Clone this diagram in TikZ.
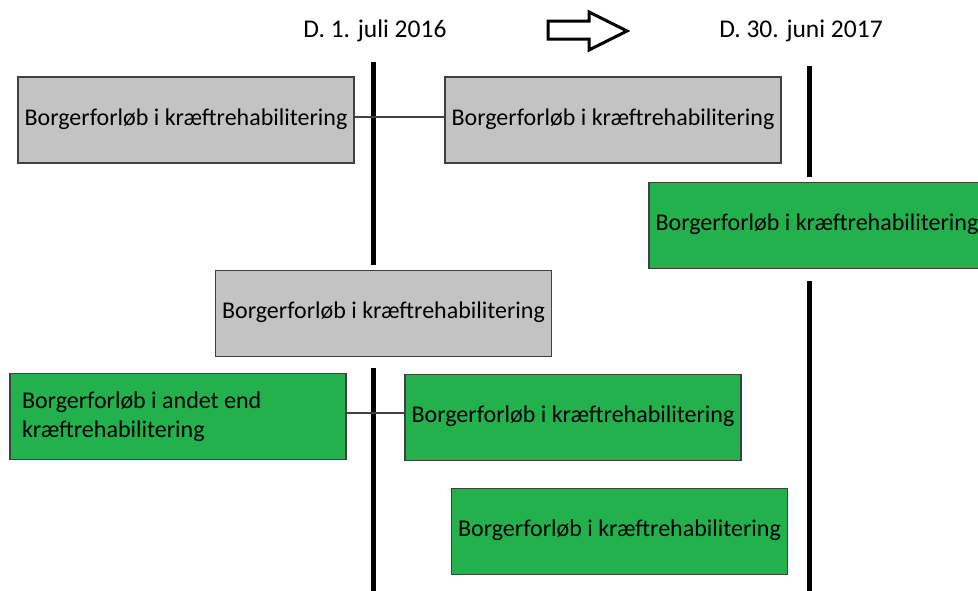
\documentclass[tikz,border=0pt]{standalone}
\usepackage{fontspec}
\setmainfont{Carlito}
\begin{document}
\begin{tikzpicture}[x=1pt,y=-1pt,
  box/.style={draw=black!75,line width=1.3pt,minimum width=336pt,minimum height=86pt,inner sep=0pt,
    font=\fontsize{24}{29}\selectfont,text depth=6pt},
  graybox/.style={box,fill={rgb,255:red,195;green,195;blue,195}},
  greenbox/.style={box,fill={rgb,255:red,34;green,177;blue,76}},
  timeline/.style={line width=5pt,black},
  link/.style={line width=1.3pt,black!75},
  title/.style={font=\fontsize{25.5}{30}\selectfont,inner sep=0pt}]
\clip (0,0) rectangle (978,590);
\fill[white] (0,0) rectangle (978,590);
% titles
\node[title] (t1) at (375,31) {D. 1. juli 2016};
\node[title] (t2) at (801,31) {D. 30. juni 2017};
% block arrow
\draw[line width=3pt,miter limit=10] (548,21) -- (589,21) -- (589,12) -- (627,31) -- (589,50) -- (589,39) -- (548,39) -- cycle;
% timelines
\coordinate (a1) at (373,62);
\coordinate (a2) at (373,265);
\coordinate (a3) at (373,368);
\coordinate (a4) at (373,592);
\coordinate (b1) at (809,66);
\coordinate (b2) at (809,177);
\coordinate (b3) at (809,281);
\coordinate (b4) at (809,592);
\draw[timeline] (a1) -- (a2);
\draw[timeline] (a3) -- (a4);
\draw[timeline] (b1) -- (b2);
\draw[timeline] (b3) -- (b4);
% boxes
\node[graybox] (n1) at (186,120) {Borgerforløb i kræftrehabilitering};
\node[graybox] (n2) at (613,120) {Borgerforløb i kræftrehabilitering};
\node[greenbox] (n3) at (817,225.5) {Borgerforløb i kræftrehabilitering};
\node[graybox] (n4) at (383.5,313.5) {Borgerforløb i kræftrehabilitering};
\node[greenbox,align=flush left,text width=312pt,text depth=32pt] (n5) at (178,416.5) {Borgerforløb i andet end\\kræftrehabilitering};
\node[greenbox] (n6) at (573,417.5) {Borgerforløb i kræftrehabilitering};
\node[greenbox] (n7) at (619.5,531.5) {Borgerforløb i kræftrehabilitering};
% links
\draw[link] (n1.east |- 0,117) -- (n2.west |- 0,117);
\draw[link] (n5.east |- 0,413) -- (n6.west |- 0,413);
\end{tikzpicture}
\end{document}
